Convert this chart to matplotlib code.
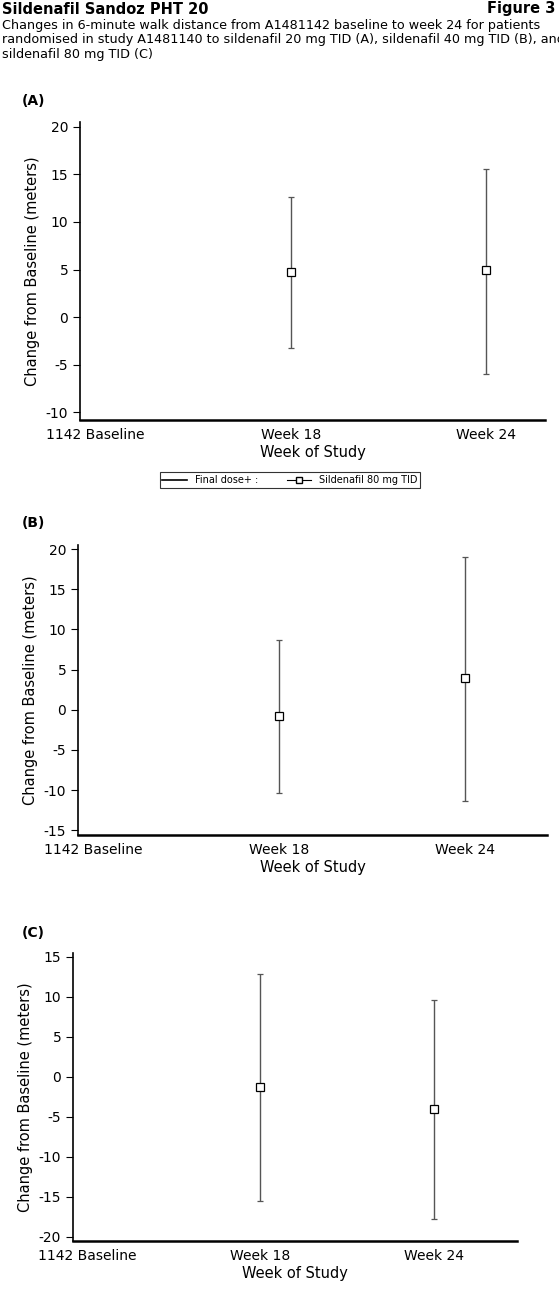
import matplotlib
matplotlib.use("Agg")
import matplotlib.pyplot as plt
from matplotlib.lines import Line2D

plt.rcParams['font.family'] = ['Liberation Sans Narrow', 'DejaVu Sans']
plt.rcParams['axes.unicode_minus'] = False

categories = ["1142 Baseline", "Week 18", "Week 24"]
pos = [1, 2]
a_mean = [4.7, 5.0]; a_lo = [-3.2, -6.0]; a_hi = [12.6, 15.6]
b_mean = [-0.8, 3.9]; b_lo = [-10.4, -11.4]; b_hi = [8.7, 19.0]
c_mean = [-1.2, -4.0]; c_lo = [-15.5, -17.7]; c_hi = [12.9, 9.6]

W, H = 559, 1291
fig = plt.figure(figsize=(W/100, H/100), dpi=100)

def mkax(l, r, t, b):
    return fig.add_axes([l/W, 1-b/H, (r-l)/W, (b-t)/H])

panels = [
    ("(A)", a_mean, a_lo, a_hi, (80, 545, 122, 420), (-10.8, 20.5), [-10, -5, 0, 5, 10, 15, 20], 2.3, 108),
    ("(B)", b_mean, b_lo, b_hi, (78, 547, 545, 835), (-15.6, 20.5), [-15, -10, -5, 0, 5, 10, 15, 20], 2.44, 530),
    ("(C)", c_mean, c_lo, c_hi, (73, 517, 953, 1241), (-20.5, 15.5), [-20, -15, -10, -5, 0, 5, 10, 15], 2.48, 940),
]
for lab, m, lo, hi, box, ylim, yt, xr, lab_y in panels:
    ax = mkax(*box)
    yerr = [[mm - l for mm, l in zip(m, lo)], [h - mm for mm, h in zip(m, hi)]]
    ax.errorbar(pos, m, yerr=yerr, fmt='s', mfc='white', mec='black', ms=6, mew=0.9,
                ecolor='#555555', elinewidth=1.0, capsize=2, capthick=1.0)
    ax.set_xlim(-0.08, xr)
    ax.set_ylim(*ylim)
    ax.set_yticks(yt)
    ax.set_xticks([0, 1, 2])
    ax.set_xticklabels(categories, fontsize=10)
    ax.tick_params(axis='x', length=0, pad=6)
    ax.tick_params(axis='y', direction='out', length=5, labelsize=10)
    for s in ['top', 'right']:
        ax.spines[s].set_visible(False)
    ax.spines['left'].set_linewidth(1.2)
    ax.spines['bottom'].set_linewidth(1.8)
    ax.set_xlabel("Week of Study", fontsize=10.5, labelpad=2)
    ax.set_ylabel("Change from Baseline (meters)", fontsize=10.5)
    fig.text(22/W, 1-lab_y/H, lab, fontsize=10, fontweight='bold', va='bottom')

fig.text(2/W, 1-9/H, "Sildenafil Sandoz PHT 20", fontsize=10.5, fontweight='bold', va='center')
fig.text(555/W, 1-9/H, "Figure 3", fontsize=10.5, fontweight='bold', va='center', ha='right')
fig.text(2/W, 1-19/H, "Changes in 6-minute walk distance from A1481142 baseline to week 24 for patients\n"
         "randomised in study A1481140 to sildenafil 20 mg TID (A), sildenafil 40 mg TID (B), and\n"
         "sildenafil 80 mg TID (C)", fontsize=9.2, va='top', linespacing=1.15)

h1 = Line2D([], [], color='black', lw=1.2)
h2 = Line2D([], [], color='black', lw=0.8, marker='s', mfc='white', ms=4)
leg = fig.legend([h1, h2], ["Final dose+ :", "Sildenafil 80 mg TID"], loc='center',
                 bbox_to_anchor=(290/W, 1-480/H), ncol=2, fontsize=7, frameon=True,
                 fancybox=False, edgecolor='black', handlelength=2.5, borderpad=0.3, columnspacing=3)
leg.get_frame().set_linewidth(0.8)

fig.savefig("out.png", dpi=100)
